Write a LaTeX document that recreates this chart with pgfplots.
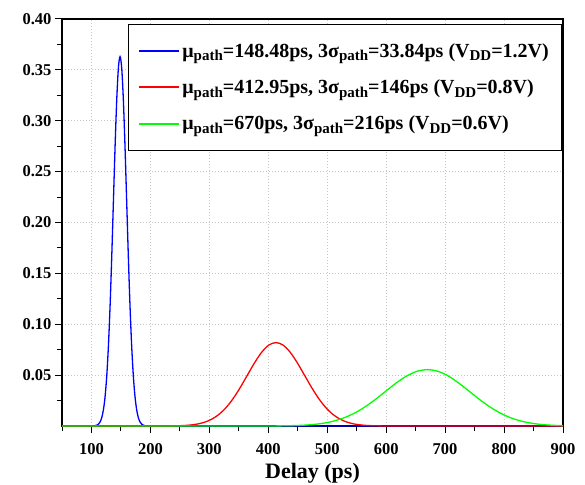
\documentclass[border=0pt]{standalone}
\usepackage{pgfplots}
\pgfplotsset{compat=1.18}
\usepackage{fontspec}
\setmainfont{Liberation Serif}
\newcommand\sub[1]{\raisebox{-0.4ex}{\fontsize{15}{15}\selectfont #1}}
\begin{document}
\begin{tikzpicture}
\begin{axis}[
  scale only axis, width=501pt, height=407pt,
  at={(0,0)}, anchor=south west,
  xmin=50, xmax=900, ymin=0, ymax=0.40,
  xtick={100,200,...,900},
  xticklabels={\textbf{100},\textbf{200},\textbf{300},\textbf{400},\textbf{500},\textbf{600},\textbf{700},\textbf{800},\textbf{900}},
  minor xtick={50,150,...,850},
  ytick={0.05,0.10,...,0.40},
  yticklabels={\textbf{0.05},\textbf{0.10},\textbf{0.15},\textbf{0.20},\textbf{0.25},\textbf{0.30},\textbf{0.35},\textbf{0.40}},
  minor ytick={0.025,0.075,...,0.375},
  tick align=outside,
  xtick pos=bottom, ytick pos=left,
  major tick length=7pt, minor tick length=5pt,
  tick style={black, line width=1pt},
  axis line style={line width=1.2pt},
  grid=major,
  major grid style={gray!45, line width=0.8pt, dash pattern=on 1pt off 2pt},
  xticklabel style={font=\fontsize{16.5}{16.5}\selectfont\bfseries, yshift=-7pt},
  yticklabel style={font=\fontsize{16.5}{16.5}\selectfont\bfseries},
  xlabel={Delay (ps)},
  xlabel style={font=\fontsize{22}{22}\selectfont\bfseries, yshift=-2pt},
  legend style={at={(1,1)}, anchor=north east, xshift=-2pt, yshift=-5pt,
    font=\fontsize{20}{20}\selectfont\bfseries,
    row sep=17pt, inner xsep=10pt, inner ysep=17pt},
  legend cell align=left,
  legend image code/.code={\draw[#1, line width=1.8pt] (0pt,0pt) -- (40pt,0pt);},
]
\addplot[color=blue, line width=1.3pt, smooth] coordinates {
(50,0) (98,0) (103.36,0.00012) (106.18,0.00032) (109.00,0.00079) (111.82,0.00185)
(114.64,0.00403) (117.46,0.00827) (120.28,0.0160) (123.10,0.0289) (125.92,0.0491)
(128.74,0.0785) (131.56,0.1178) (134.38,0.1662) (137.20,0.2202) (140.02,0.2740)
(142.84,0.3203) (145.66,0.3518) (148.48,0.3630) (151.30,0.3518) (154.12,0.3203)
(156.94,0.2740) (159.76,0.2202) (162.58,0.1662) (165.40,0.1178) (168.22,0.0785)
(171.04,0.0491) (173.86,0.0289) (176.68,0.0160) (179.50,0.00827) (182.32,0.00403)
(185.14,0.00185) (187.96,0.00079) (190.78,0.00032) (193.60,0.00012) (199,0) (900,0)
};
\addlegendentry{μ\sub{path}=148.48ps, 3σ\sub{path}=33.84ps (V\sub{DD}=1.2V)}
\addplot[color=red, line width=1.3pt, smooth] coordinates {
(50,0) (210,0) (218.27,0.00003) (230.44,0.00007) (242.60,0.00018) (254.77,0.00042)
(266.94,0.00091) (279.11,0.00187) (291.27,0.00360) (303.44,0.00652) (315.61,0.01110)
(327.78,0.01773) (339.94,0.02662) (352.11,0.03754) (364.28,0.04974) (376.45,0.06190)
(388.61,0.07237) (400.78,0.07948) (412.95,0.0820) (425.12,0.07948) (437.29,0.07237)
(449.45,0.06190) (461.62,0.04974) (473.79,0.03754) (485.96,0.02662) (498.12,0.01773)
(510.29,0.01110) (522.46,0.00652) (534.63,0.00360) (546.79,0.00187) (558.96,0.00091)
(571.13,0.00042) (583.30,0.00018) (595.46,0.00007) (607.63,0.00003) (616,0) (900,0)
};
\addlegendentry{μ\sub{path}=412.95ps, 3σ\sub{path}=146ps (V\sub{DD}=0.8V)}
\addplot[color=green, line width=1.3pt, smooth] coordinates {
(50,0) (375,0) (382,0.00002) (400,0.00005) (418,0.00012) (436,0.00028) (454,0.00062)
(472,0.00126) (490,0.00243) (508,0.00441) (526,0.00750) (544,0.01198) (562,0.01799)
(580,0.02536) (598,0.03360) (616,0.04182) (634,0.04889) (652,0.05370) (670,0.0554)
(688,0.05370) (706,0.04889) (724,0.04182) (742,0.03360) (760,0.02536) (778,0.01799)
(796,0.01198) (814,0.00750) (832,0.00441) (850,0.00243) (868,0.00126) (886,0.00062)
(900,0.00034)
};
\addlegendentry{μ\sub{path}=670ps, 3σ\sub{path}=216ps (V\sub{DD}=0.6V)}
\end{axis}
\pgfresetboundingbox
\path[use as bounding box] (-62pt,-58pt) rectangle (523pt,426pt);
\end{tikzpicture}
\end{document}
